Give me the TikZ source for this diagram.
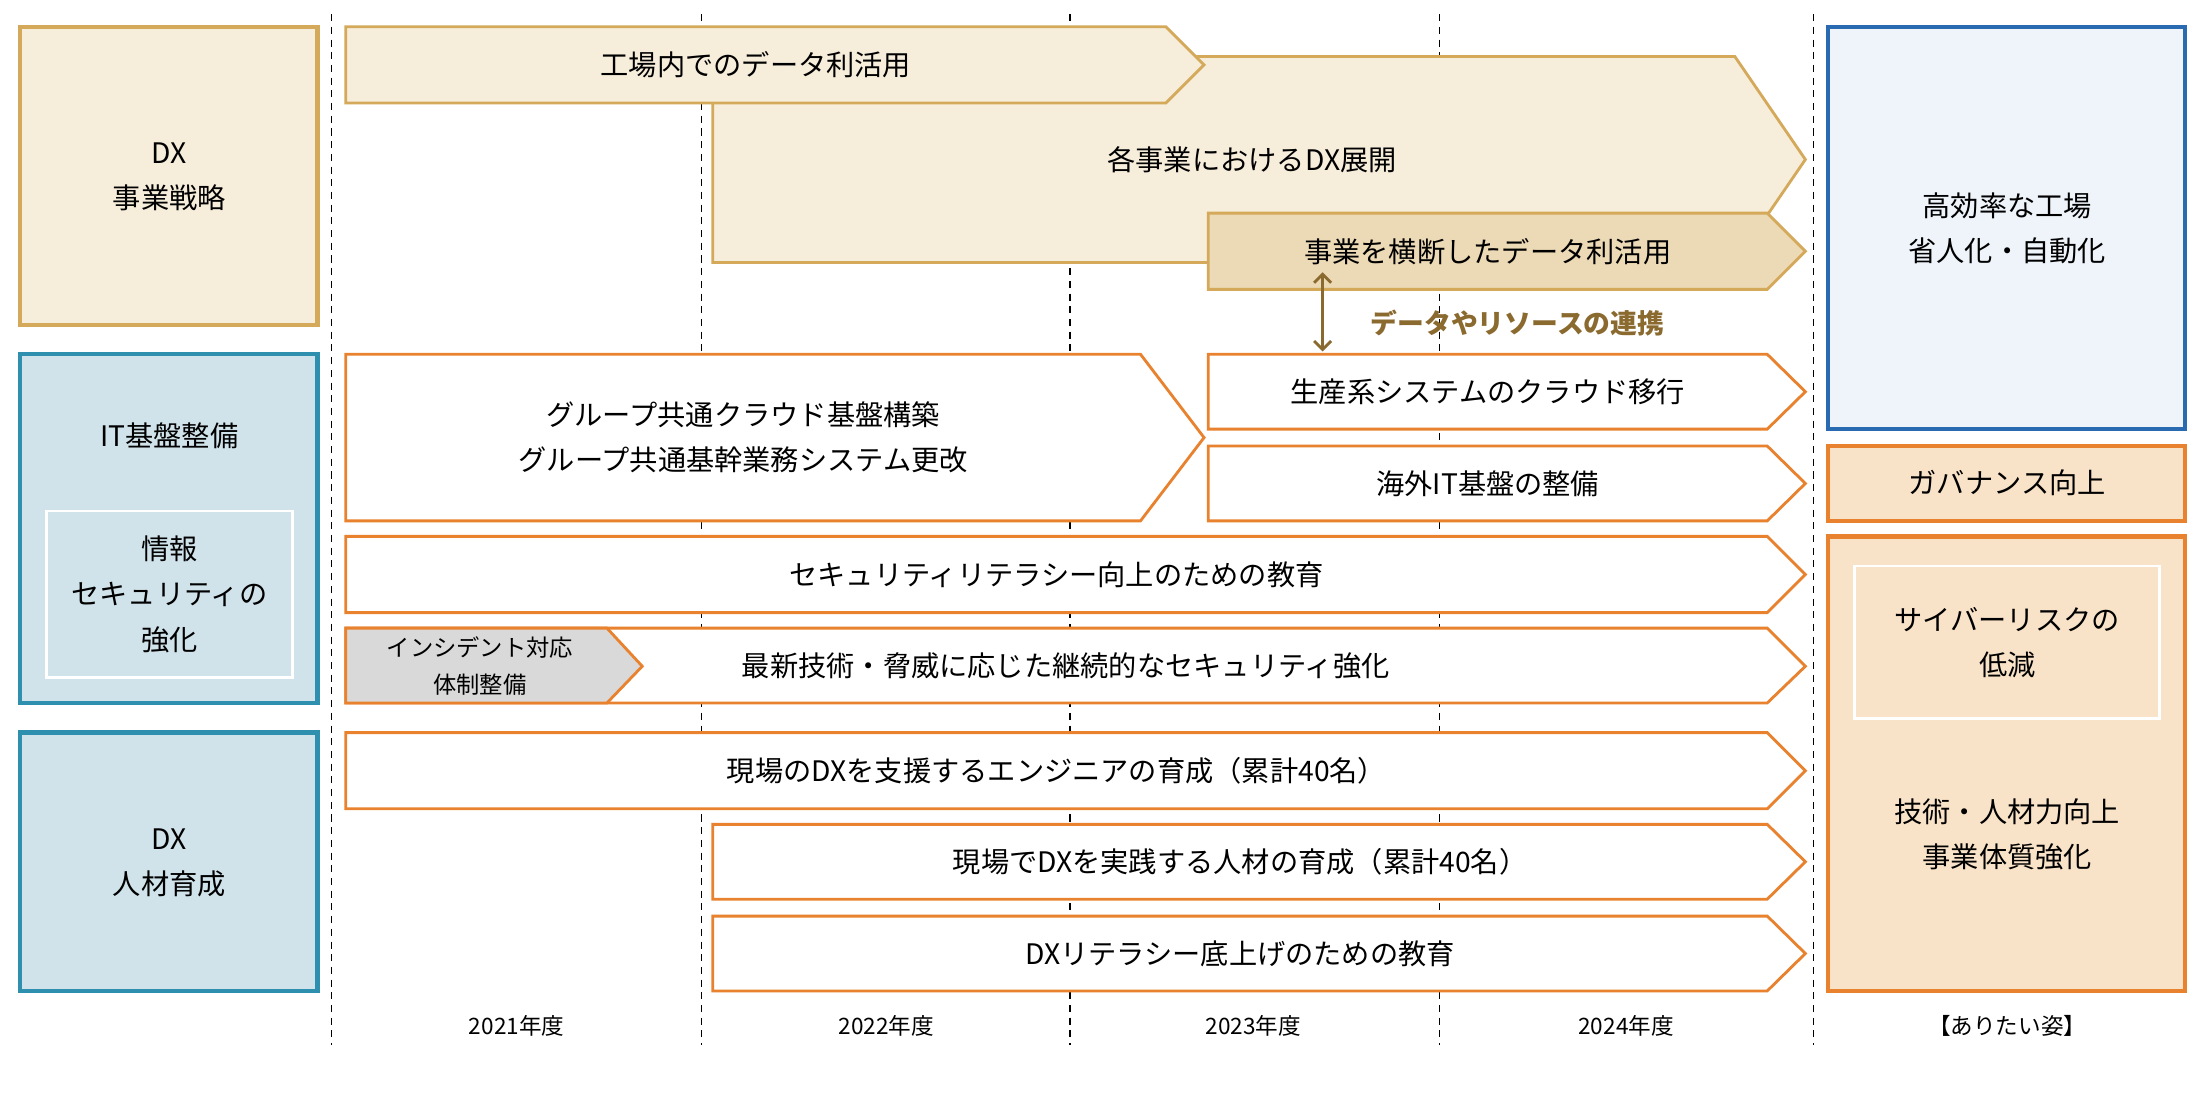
\documentclass[tikz,border=0pt]{standalone}
\usepackage{fontspec}
\setmainfont{Noto Sans CJK JP}
\usetikzlibrary{arrows.meta}
\definecolor{gold}{HTML}{D4A95A}
\definecolor{cream}{HTML}{F7EDDB}
\definecolor{tan}{HTML}{ECD9B5}
\definecolor{orng}{HTML}{E8822E}
\definecolor{teal}{HTML}{2E8FAE}
\definecolor{lblue}{HTML}{D0E3EA}
\definecolor{dblue}{HTML}{2A6AB0}
\definecolor{pblue}{HTML}{EEF4FA}
\definecolor{peach}{HTML}{F9E3C8}
\definecolor{gry}{HTML}{D9D9D9}
\definecolor{brn}{HTML}{8B6A30}
\tikzset{
  goldarr/.style={fill=cream,draw=gold,line width=2pt,line join=miter},
  tanarr/.style={fill=tan,draw=gold,line width=2pt},
  orarr/.style={fill=white,draw=orng,line width=2pt},
  grarr/.style={fill=gry,draw=orng,line width=2pt},
  lbl/.style={font=\fontsize{20}{32}\selectfont,align=center,text=black},
  yr/.style={font=\fontsize{16}{20}\selectfont},
  vline/.style={dashed,line width=0.8pt,dash pattern=on 5pt off 4pt},
  catgold/.style={fill=cream,draw=gold,line width=3pt},
  catteal/.style={fill=lblue,draw=teal,line width=3pt},
  inner/.style={draw=white,line width=2pt},
}
\newcommand{\chev}[8]{% x1 y1 x2 y2 depth style name text
  \path[#6] (#1,#2) -- (#3-#5,#2) -- (#3,{(#2+#4)/2}) -- (#3-#5,#4) -- (#1,#4) -- cycle;
  \node[lbl] (#7) at ({(#1+#3-#5)/2},{(#2+#4)/2}) {#8};}
\begin{document}
\begin{tikzpicture}[x=1pt,y=-1pt]
\useasboundingbox[fill=white] (0,0) rectangle (1560,782);
% dashed year lines
\foreach \xx in {235,497,758,1020,1285} \draw[vline] (\xx,10) -- (\xx,740);
% left categories
\draw[catgold] (14,19) rectangle (225,230);
\node[lbl] (c1) at (120,125) {DX\\事業戦略};
\draw[catteal] (14,251) rectangle (225,498);
\node[lbl] (c2) at (120,309) {IT基盤整備};
\draw[inner] (33,362) rectangle (207,480);
\node[lbl] (c3) at (120,421) {情報\\セキュリティの\\強化};
\draw[catteal] (14,519) rectangle (225,702);
\node[lbl] (c4) at (120,611) {DX\\人材育成};
% right goals
\draw[fill=pblue,draw=dblue,line width=3pt] (1295,19) rectangle (1548,304);
\node[lbl] (g1) at (1422,162) {高効率な工場\\省人化・自動化};
\draw[fill=peach,draw=orng,line width=3pt] (1295,316) rectangle (1548,369);
\node[lbl] (g2) at (1422,342) {ガバナンス向上};
\draw[fill=peach,draw=orng,line width=3pt] (1295,380) rectangle (1548,702);
\draw[inner] (1314,401) rectangle (1530,509);
\node[lbl] (g3) at (1422,455) {サイバーリスクの\\低減};
\node[lbl] (g4) at (1422,591) {技術・人材力向上\\事業体質強化};
% DX strategy arrows
\path[goldarr] (505,40) -- (1229,40) -- (1279,113) -- (1229,186) -- (505,186) -- cycle;
\node[lbl] (a2) at (887,113) {各事業におけるDX展開};
\chev{245}{19}{853}{73}{27}{goldarr}{a1}{工場内でのデータ利活用}
\chev{856}{151}{1279}{205}{27}{tanarr}{a3}{事業を横断したデータ利活用}
% IT arrows
\chev{245}{251}{853}{369}{45}{orarr}{a5}{グループ共通クラウド基盤構築\\グループ共通基幹業務システム更改}
\chev{856}{251}{1279}{304}{27}{orarr}{a6}{生産系システムのクラウド移行}
\chev{856}{316}{1279}{369}{27}{orarr}{a7}{海外IT基盤の整備}
\draw[{Straight Barb[length=6pt,width=12pt]}-{Straight Barb[length=6pt,width=12pt]},brn,line width=2pt] (a3.south -| 937,0) ++(0,2) coordinate (d1) -- (937,249) coordinate (d2);
\node[font=\bfseries\fontsize{19}{24}\selectfont,text=brn] (lk) at (1075,229) {データやリソースの連携};
% security
\chev{245}{380}{1279}{434}{27}{orarr}{a8}{セキュリティリテラシー向上のための教育}
\path[orarr] (245,445) -- (1252,445) -- (1279,472) -- (1252,498) -- (245,498) -- cycle;
\node[lbl] (a9) at (755,472) {最新技術・脅威に応じた継続的なセキュリティ強化};
\path[grarr] (245,445) -- (430,445) -- (455,472) -- (430,498) -- (245,498) -- cycle;
\node[lbl,font=\fontsize{16.5}{26}\selectfont] (a10) at (340,472) {インシデント対応\\体制整備};
% people
\chev{245}{519}{1279}{573}{27}{orarr}{a11}{現場のDXを支援するエンジニアの育成（累計40名）}
\chev{505}{584}{1279}{637}{27}{orarr}{a12}{現場でDXを実践する人材の育成（累計40名）}
\chev{505}{649}{1279}{702}{27}{orarr}{a13}{DXリテラシー底上げのための教育}
% years
\node[yr] (y1) at (366,727) {2021年度};
\node[yr] (y2) at (628,727) {2022年度};
\node[yr] (y3) at (888,727) {2023年度};
\node[yr] (y4) at (1152,727) {2024年度};
\node[yr] (y5) at (1422,727) {【ありたい姿】};
\end{tikzpicture}
\end{document}
